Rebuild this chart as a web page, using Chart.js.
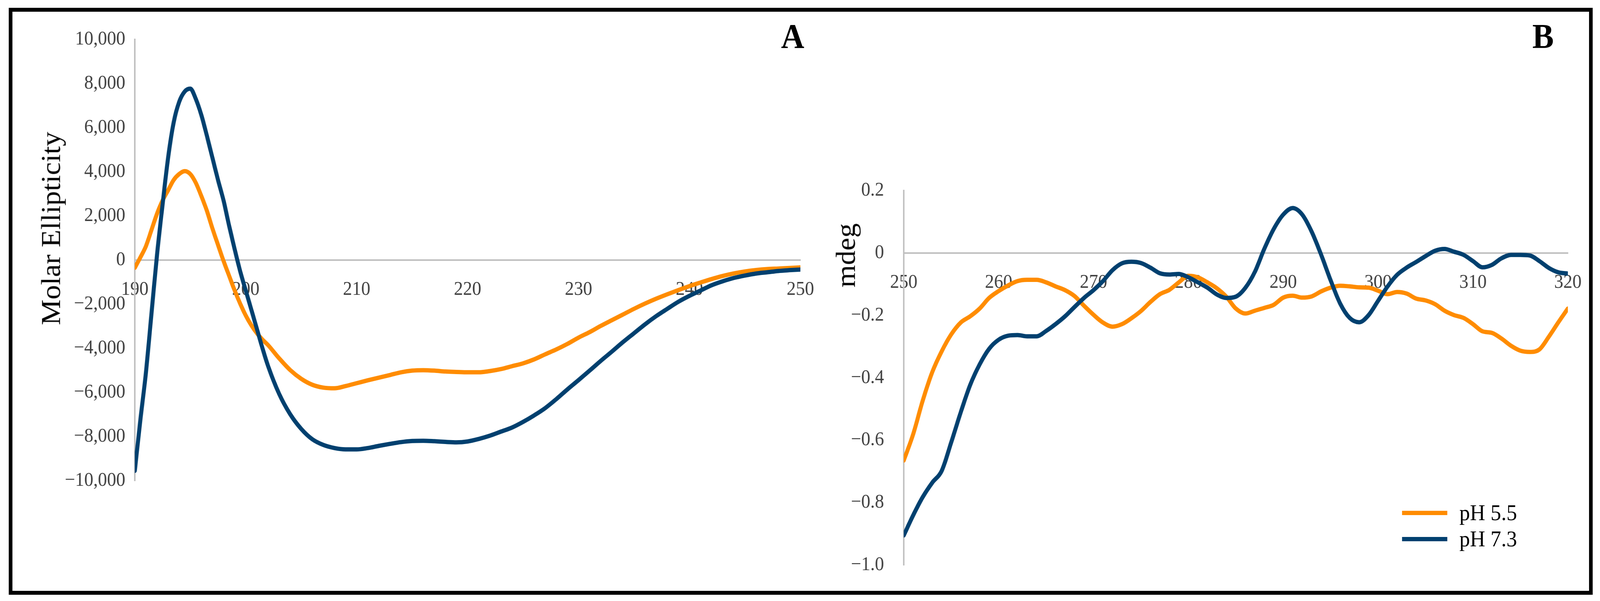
<!DOCTYPE html>
<html>
<head>
<meta charset="utf-8">
<script src="https://cdn.jsdelivr.net/npm/chart.js@4.4.1/dist/chart.umd.min.js"></script>
<style>
  html, body { margin: 0; padding: 0; background: #fff; overflow: hidden; }
  #page { position: relative; width: 4380px; height: 1539px; overflow: hidden; background: #fff; font-family: "Liberation Serif", serif; transform-origin: 0 0; }
  #frame { position: absolute; left: 24px; top: 20px; width: 4336px; height: 1503px; border: 10px solid #000; box-sizing: border-box; }
  canvas { position: absolute; top: 0; }
  #chartA { left: 0; }
  #chartB { left: 2300px; }
  .panel { position: absolute; width: 200px; text-align: center; font-weight: bold; font-size: 88px; line-height: 1; color: #000; top: 49px; }
  .ytitle { position: absolute; font-size: 74px; line-height: 1; white-space: nowrap; color: #000; transform: translate(-50%, -50%) rotate(-90deg); }
  .legend-row { position: absolute; left: 3838px; height: 80px; display: flex; align-items: center; }
  .legend-line { width: 124px; height: 11px; margin-right: 33px; }
  .legend-text { font-size: 58px; line-height: 1; color: #000; white-space: nowrap; }
</style>
</head>
<body>
<div id="page">
  <div id="frame"></div>
  <canvas id="chartA" width="2300" height="1539"></canvas>
  <canvas id="chartB" width="2080" height="1539"></canvas>
  <div class="panel" style="left:2070px">A</div>
  <div class="panel" style="left:4124px">B</div>
  <div class="ytitle" style="left:139px; top:585px">Molar Ellipticity</div>
  <div class="ytitle" style="left:2315px; top:654px">mdeg</div>
  <div id="legend"></div>
</div>
<script>
// series shared by both panels
const seriesNames = ['pH 5.5', 'pH 7.3'];
const seriesColors = ['#FF8C00', '#00406F'];

// Panel A: far-UV, molar ellipticity
const wavelengthA = [190, 190.5, 191, 191.5, 192, 192.5, 193, 193.5, 194, 194.5, 195, 195.5, 196, 196.5,
  197, 197.5, 198, 198.5, 199, 199.5, 200, 200.5, 201, 201.5, 202, 203, 204, 205, 206, 207, 208, 209, 210,
  211, 212, 213, 214, 215, 216, 217, 218, 219, 220, 221, 222, 223, 224, 225, 226, 227, 228, 229, 230,
  231, 232, 233, 234, 235, 236, 237, 238, 239, 240, 241, 242, 243, 244, 245, 246, 247, 248, 249, 250];
const pH55A = [-350, 120, 627, 1360, 2100, 2700, 3160, 3630, 3900, 4030, 3900, 3500, 2900, 2230,
  1430, 690, -40, -707, -1375, -1975, -2510, -2950, -3310, -3600, -3845, -4445, -4980, -5380, -5650, -5780, -5810, -5710, -5580,
  -5450, -5330, -5210, -5085, -5010, -4990, -5010, -5050, -5070, -5085, -5085, -5030, -4940, -4810, -4680, -4500, -4270, -4050, -3800, -3515,
  -3265, -2985, -2725, -2470, -2210, -1970, -1750, -1550, -1360, -1180, -1017, -860, -720, -605, -515, -450, -405, -383, -360, -330];
const pH73A = [-9550, -7250, -5110, -2440, 227, 2500, 4630, 6230, 7170, 7640, 7770, 7300, 6570, 5630,
  4630, 3630, 2700, 1560, 494, -507, -1375, -2240, -3110, -3980, -4780, -6050, -6980, -7650, -8120, -8380, -8520, -8580, -8580,
  -8520, -8420, -8330, -8250, -8200, -8190, -8210, -8240, -8260, -8220, -8107, -7960, -7775, -7590, -7333, -7038, -6707, -6300, -5860, -5440,
  -5010, -4570, -4150, -3720, -3315, -2910, -2540, -2210, -1890, -1620, -1380, -1140, -960, -810, -700, -610, -553, -494, -457, -427];

// Panel B: near-UV, mdeg
const wavelengthB = [250, 251, 252, 253, 254, 255, 256, 257, 258, 259, 260, 261, 262, 263, 264, 265, 266, 267, 268, 269,
  270, 271, 272, 273, 274, 275, 276, 277, 278, 279, 280, 281, 282, 283, 284, 285, 286, 287, 288, 289,
  290, 291, 292, 293, 294, 295, 296, 297, 298, 299, 300, 301, 302, 303, 304, 305, 306, 307, 308, 309,
  310, 311, 312, 313, 314, 315, 316, 317, 318, 319, 320];
const pH55B = [-0.665, -0.58, -0.473, -0.382, -0.315, -0.261, -0.223, -0.203, -0.178, -0.144, -0.122, -0.104, -0.090, -0.086, -0.086, -0.094, -0.107, -0.119, -0.138, -0.169,
  -0.198, -0.223, -0.236, -0.228, -0.209, -0.186, -0.157, -0.132, -0.118, -0.094, -0.073, -0.078, -0.094, -0.113, -0.140, -0.178, -0.194, -0.185, -0.176, -0.166,
  -0.143, -0.137, -0.143, -0.139, -0.123, -0.111, -0.105, -0.107, -0.110, -0.111, -0.121, -0.132, -0.125, -0.130, -0.146, -0.152, -0.164, -0.185, -0.199, -0.208,
  -0.228, -0.251, -0.256, -0.274, -0.297, -0.313, -0.317, -0.309, -0.268, -0.222, -0.178];
const pH73B = [-0.905, -0.84, -0.782, -0.736, -0.698, -0.607, -0.511, -0.423, -0.357, -0.307, -0.278, -0.265, -0.263, -0.267, -0.267, -0.250, -0.228, -0.203, -0.173, -0.144,
  -0.119, -0.090, -0.055, -0.033, -0.028, -0.032, -0.047, -0.065, -0.069, -0.067, -0.078, -0.094, -0.111, -0.133, -0.144, -0.140, -0.112, -0.061, 0.013, 0.077,
  0.123, 0.144, 0.123, 0.068, -0.006, -0.088, -0.162, -0.208, -0.222, -0.199, -0.153, -0.107, -0.070, -0.047, -0.029, -0.010, 0.007, 0.013, 0.004, -0.006,
  -0.026, -0.046, -0.038, -0.017, -0.006, -0.006, -0.008, -0.026, -0.048, -0.062, -0.066];

const tickFont = { family: 'Liberation Serif', size: 50 };
const tickColor = '#404040';
const axisColor = '#BFBFBF';

// the browser may give a narrower window than 4380, so stretch the fixed layout to fill it
const page = document.getElementById('page');
const fitX = window.innerWidth / 4380;
const fitY = window.innerHeight / 1539;
page.style.transform = 'scale(' + fitX + ',' + fitY + ')';

function minus(s) { return s.replace('-', '\u2212'); }

function buildChart(id, xs, seriesList, cfg) {
  return new Chart(document.getElementById(id), {
    type: 'line',
    data: {
      datasets: seriesList.map((ys, k) => ({
        label: seriesNames[k],
        data: xs.map((x, i) => ({ x: x, y: ys[i] })),
        borderColor: seriesColors[k],
        backgroundColor: seriesColors[k],
        borderWidth: 11,
        pointRadius: 0,
        fill: false,
        cubicInterpolationMode: 'monotone',
        borderCapStyle: 'round',
        borderJoinStyle: 'round',
        order: k === 0 ? 2 : 1
      }))
    },
    options: {
      responsive: false,
      animation: false,
      devicePixelRatio: 1,
      layout: { padding: cfg.padding },
      plugins: { legend: { display: false }, tooltip: { enabled: false } },
      scales: {
        x: {
          type: 'linear',
          position: { y: 0 },
          min: cfg.xMin, max: cfg.xMax,
          ticks: { stepSize: 10, padding: 46, color: tickColor, font: tickFont, maxRotation: 0, autoSkip: false },
          grid: { display: false, drawTicks: false },
          border: { display: true, color: axisColor, width: 4 }
        },
        y: {
          type: 'linear',
          position: 'left',
          min: cfg.yMin, max: cfg.yMax,
          ticks: { stepSize: cfg.yStep, padding: cfg.yPad, color: tickColor, font: tickFont, callback: cfg.yFormat },
          grid: { display: false, drawTicks: false },
          border: { display: true, color: axisColor, width: 4 },
          afterFit: s => { s.width = cfg.yWidth; }
        }
      }
    }
  });
}

buildChart('chartA', wavelengthA, [pH55A, pH73A], {
  padding: { left: 0, top: 101, right: 109, bottom: 308 },
  xMin: 190, xMax: 250, yMin: -10000, yMax: 10000, yStep: 2000,
  yPad: 26, yWidth: 369,
  yFormat: v => minus(Math.round(v).toLocaleString('en-US'))
});

buildChart('chartB', wavelengthB, [pH55B, pH73B], {
  padding: { left: 0, top: 488, right: 88, bottom: 92 },
  xMin: 250, xMax: 320, yMin: -1.0, yMax: 0.2, yStep: 0.2,
  yPad: 54, yWidth: 174,
  yFormat: v => Math.abs(v) < 1e-9 ? '0' : minus(v.toFixed(1))
});

// legend inside panel B
const legend = document.getElementById('legend');
const legendY = [1313, 1380];
seriesNames.forEach((name, k) => {
  const row = document.createElement('div');
  row.className = 'legend-row';
  row.style.top = (legendY[k] - 40) + 'px';
  const line = document.createElement('span');
  line.className = 'legend-line';
  line.style.background = seriesColors[k];
  const txt = document.createElement('span');
  txt.className = 'legend-text';
  txt.textContent = name;
  row.appendChild(line);
  row.appendChild(txt);
  legend.appendChild(row);
});
</script>
</body>
</html>
